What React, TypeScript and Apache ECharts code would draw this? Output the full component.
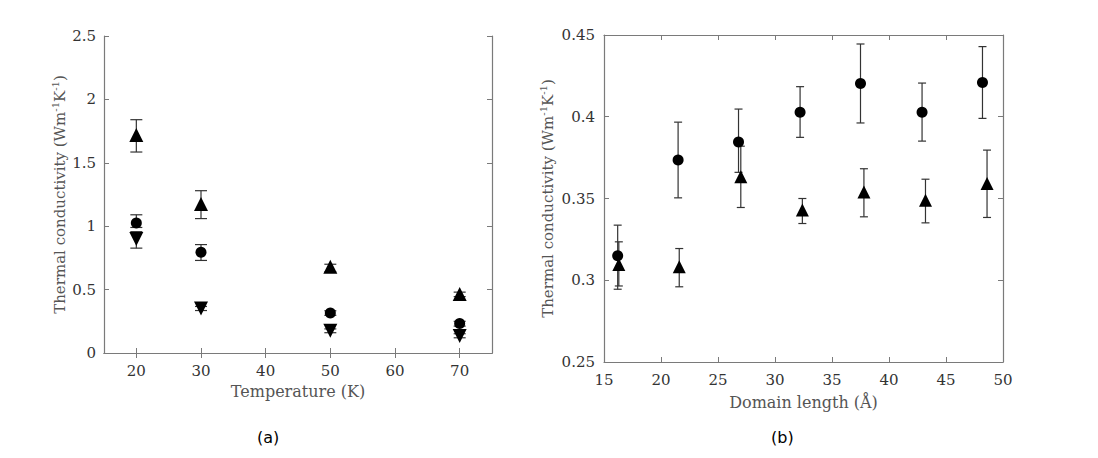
import React, { useEffect, useRef } from "react";
import * as echarts from "echarts";

// Panel (a): Temperature (K)
const tempX = [20, 30, 50, 70];
const upTriA = [1.72, 1.175, 0.68, 0.465];
const upTriALow = [1.585, 1.06, 0.64, 0.445];
const upTriAHigh = [1.84, 1.28, 0.7, 0.48];
const circA = [1.025, 0.795, 0.315, 0.232];
const circALow = [0.99, 0.73, 0.297, 0.212];
const circAHigh = [1.09, 0.855, 0.333, 0.25];
const downTriA = [0.9, 0.35, 0.175, 0.135];
const downTriALow = [0.827, 0.335, 0.16, 0.12];
const downTriAHigh = [0.957, 0.367, 0.19, 0.152];
const tempTicks = [20, 30, 40, 50, 60, 70];

// Panel (b): Domain length (Å)
const circBX = [16.2, 21.5, 26.8, 32.2, 37.5, 42.9, 48.2];
const circB = [0.315, 0.3735, 0.3845, 0.4027, 0.4204, 0.4027, 0.421];
const circBLow = [0.2945, 0.3504, 0.366, 0.3874, 0.3962, 0.3851, 0.399];
const circBHigh = [0.3337, 0.3967, 0.4047, 0.4184, 0.4445, 0.4206, 0.4429];
const triBX = [16.3, 21.6, 27.0, 32.4, 37.8, 43.2, 48.6];
const triB = [0.3096, 0.3082, 0.3633, 0.3429, 0.354, 0.349, 0.3592];
const triBLow = [0.2965, 0.296, 0.3445, 0.3347, 0.3388, 0.3351, 0.3384];
const triBHigh = [0.3235, 0.3194, 0.382, 0.35, 0.3682, 0.3618, 0.3796];

const AXIS_COLOR = "#7a7a7a";
const SERIF = "'DejaVu Serif', serif";

function errData(xs: number[], lo: number[], hi: number[]) {
  return xs.map((x, i) => [x, lo[i], hi[i]]);
}

function errSeries(data: number[][], xi: number, yi: number, cap: number) {
  return {
    type: "custom",
    xAxisIndex: xi,
    yAxisIndex: yi,
    z: 2,
    data,
    renderItem: (params: any, api: any) => {
      const x = api.value(0);
      const lo = api.coord([x, api.value(1)]);
      const hi = api.coord([x, api.value(2)]);
      const style = { stroke: "#333", lineWidth: 1.2 };
      return {
        type: "group",
        children: [
          { type: "line", shape: { x1: lo[0], y1: lo[1], x2: hi[0], y2: hi[1] }, style },
          { type: "line", shape: { x1: lo[0] - cap, y1: lo[1], x2: lo[0] + cap, y2: lo[1] }, style },
          { type: "line", shape: { x1: hi[0] - cap, y1: hi[1], x2: hi[0] + cap, y2: hi[1] }, style },
        ],
      };
    },
  };
}

function pts(xs: number[], ys: number[]) {
  return xs.map((x, i) => [x, ys[i]]);
}

function scatter(data: number[][], xi: number, yi: number, symbol: string, size: number, rotate = 0) {
  return {
    type: "scatter",
    xAxisIndex: xi,
    yAxisIndex: yi,
    z: 3,
    data,
    symbol,
    symbolSize: size,
    symbolRotate: rotate,
    itemStyle: { color: "#000", opacity: 1 },
  };
}

const tickLabel = { color: "#333", fontFamily: SERIF, fontSize: 15 };
const xNameStyle = { color: "#555", fontFamily: SERIF, fontSize: 16 };
const nameStyle = {
  color: "#555",
  fontFamily: SERIF,
  fontSize: 15,
  rich: {
    a: { fontFamily: SERIF, fontSize: 15, color: "#555", lineHeight: 20 },
    s: { fontFamily: SERIF, fontSize: 10, color: "#555", verticalAlign: "top", lineHeight: 10 },
  },
};
const yName = "{a|Thermal conductivity (Wm}{s|-1}{a|K}{s|-1}{a|)}";

function boxAxis(extra: any) {
  return {
    axisLine: { show: true, lineStyle: { color: AXIS_COLOR, width: 1.2 } },
    axisTick: { show: true, inside: true, length: 5, lineStyle: { color: AXIS_COLOR } },
    splitLine: { show: false },
    ...extra,
  };
}

export default function App() {
  const ref = useRef<HTMLDivElement>(null);
  useEffect(() => {
    if (!ref.current) return;
    const chart = echarts.init(ref.current, undefined, { renderer: "svg" });
    chart.setOption({
      animation: false,
      backgroundColor: "#fff",
      textStyle: { fontFamily: SERIF },
      grid: [
        { left: 104, top: 36, width: 388, height: 317 },
        { left: 604, top: 35, width: 399, height: 327 },
      ],
      xAxis: [
        boxAxis({
          type: "value", gridIndex: 0, min: 15, max: 75, position: "bottom",
          axisTick: { show: true, inside: true, length: 5, lineStyle: { color: AXIS_COLOR }, customValues: tempTicks },
          axisLabel: { ...tickLabel, margin: 10, customValues: tempTicks },
          name: "Temperature (K)", nameLocation: "middle", nameGap: 30, nameTextStyle: xNameStyle,
        }),
        boxAxis({
          type: "value", gridIndex: 0, min: 15, max: 75, position: "top",
          axisTick: { show: true, inside: true, length: 5, lineStyle: { color: AXIS_COLOR }, customValues: tempTicks },
          axisLabel: { show: false },
        }),
        boxAxis({
          type: "value", gridIndex: 1, min: 15, max: 50, interval: 5, position: "bottom",
          axisLabel: { ...tickLabel, margin: 10 },
          name: "Domain length (Å)", nameLocation: "middle", nameGap: 32, nameTextStyle: xNameStyle,
        }),
        boxAxis({
          type: "value", gridIndex: 1, min: 15, max: 50, interval: 5, position: "top",
          axisLabel: { show: false },
        }),
      ],
      yAxis: [
        boxAxis({
          type: "value", gridIndex: 0, min: 0, max: 2.5, interval: 0.5, position: "left",
          axisLabel: { ...tickLabel, margin: 8 },
          name: yName, nameLocation: "middle", nameGap: 34, nameTextStyle: nameStyle,
        }),
        boxAxis({
          type: "value", gridIndex: 0, min: 0, max: 2.5, interval: 0.5, position: "right",
          axisLabel: { show: false },
        }),
        boxAxis({
          type: "value", gridIndex: 1, min: 0.25, max: 0.45, interval: 0.05, position: "left",
          axisLabel: { ...tickLabel, margin: 9, formatter: (v: number) => String(Math.round(v * 100) / 100) },
          name: yName, nameLocation: "middle", nameGap: 46, nameTextStyle: nameStyle,
        }),
        boxAxis({
          type: "value", gridIndex: 1, min: 0.25, max: 0.45, interval: 0.05, position: "right",
          axisLabel: { show: false },
        }),
      ],
      series: [
        errSeries(errData(tempX, upTriALow, upTriAHigh), 0, 0, 6),
        errSeries(errData(tempX, circALow, circAHigh), 0, 0, 6),
        errSeries(errData(tempX, downTriALow, downTriAHigh), 0, 0, 6),
        scatter(pts(tempX, upTriA), 0, 0, "triangle", 14),
        scatter(pts(tempX, circA), 0, 0, "circle", 11),
        scatter(pts(tempX, downTriA), 0, 0, "triangle", 14, 180),
        errSeries(errData(circBX, circBLow, circBHigh), 2, 2, 4),
        errSeries(errData(triBX, triBLow, triBHigh), 2, 2, 4),
        scatter(pts(circBX, circB), 2, 2, "circle", 11),
        scatter(pts(triBX, triB), 2, 2, "triangle", 13),
      ],
      graphic: [
        { type: "text", left: 257, top: 429, style: { text: "(a)", font: "16px 'DejaVu Sans'", fill: "#000" } },
        { type: "text", left: 771, top: 429, style: { text: "(b)", font: "16px 'DejaVu Sans'", fill: "#000" } },
      ],
    });
    return () => chart.dispose();
  }, []);
  return (
    <div
      ref={ref}
      style={{ position: "fixed", left: 0, top: 0, width: 1098, height: 458, background: "#fff" }}
    />
  );
}
